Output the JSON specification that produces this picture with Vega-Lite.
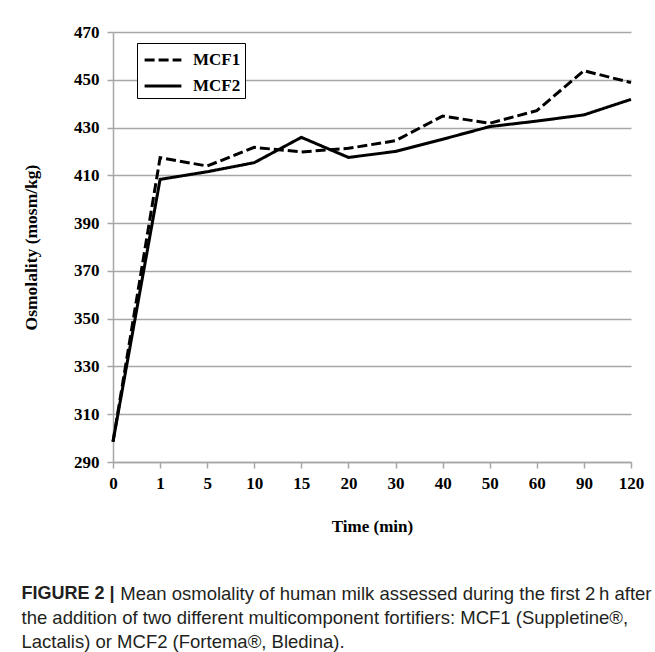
{
  "$schema": "https://vega.github.io/schema/vega-lite/v6.json",
  "width": 518,
  "height": 430,
  "autosize": "none",
  "padding": {"left": 113, "top": 32, "right": 24, "bottom": 190},
  "background": "white",
  "data": {
    "values": [
      {"time": 0, "series": "MCF1", "osm": 298.5},
      {"time": 1, "series": "MCF1", "osm": 417.4},
      {"time": 5, "series": "MCF1", "osm": 413.9},
      {"time": 10, "series": "MCF1", "osm": 421.7},
      {"time": 15, "series": "MCF1", "osm": 419.8},
      {"time": 20, "series": "MCF1", "osm": 421.3},
      {"time": 30, "series": "MCF1", "osm": 424.5},
      {"time": 40, "series": "MCF1", "osm": 434.8},
      {"time": 50, "series": "MCF1", "osm": 431.8},
      {"time": 60, "series": "MCF1", "osm": 437.1},
      {"time": 90, "series": "MCF1", "osm": 453.8},
      {"time": 120, "series": "MCF1", "osm": 448.8},
      {"time": 0, "series": "MCF2", "osm": 298.5},
      {"time": 1, "series": "MCF2", "osm": 408.3},
      {"time": 5, "series": "MCF2", "osm": 411.5},
      {"time": 10, "series": "MCF2", "osm": 415.3},
      {"time": 15, "series": "MCF2", "osm": 425.9},
      {"time": 20, "series": "MCF2", "osm": 417.5},
      {"time": 30, "series": "MCF2", "osm": 420.0},
      {"time": 40, "series": "MCF2", "osm": 425.1},
      {"time": 50, "series": "MCF2", "osm": 430.4},
      {"time": 60, "series": "MCF2", "osm": 432.7},
      {"time": 90, "series": "MCF2", "osm": 435.3},
      {"time": 120, "series": "MCF2", "osm": 441.8}
    ]
  },
  "mark": {"type": "line", "color": "black", "strokeWidth": 3, "clip": false},
  "encoding": {
    "x": {
      "field": "time",
      "type": "ordinal",
      "scale": {"type": "point", "padding": 0},
      "axis": {
        "title": "Time (min)",
        "labelAngle": 0,
        "labelFont": "Liberation Serif",
        "labelFontWeight": "bold",
        "labelFontSize": 17,
        "labelColor": "black",
        "labelPadding": 7,
        "titleFont": "Liberation Serif",
        "titleFontWeight": "bold",
        "titleFontSize": 17,
        "titleColor": "black",
        "titlePadding": 27,
        "domainColor": "#a6a6a6",
        "domainWidth": 1.5,
        "tickColor": "#a6a6a6",
        "tickWidth": 1.5,
        "tickSize": 6,
        "grid": false
      }
    },
    "y": {
      "field": "osm",
      "type": "quantitative",
      "scale": {"domain": [290, 470], "nice": false, "zero": false},
      "axis": {
        "title": "Osmolality (mosm/kg)",
        "values": [290, 310, 330, 350, 370, 390, 410, 430, 450, 470],
        "labelFont": "Liberation Serif",
        "labelFontWeight": "bold",
        "labelFontSize": 17,
        "labelColor": "black",
        "labelPadding": 8,
        "titleFont": "Liberation Serif",
        "titleFontWeight": "bold",
        "titleFontSize": 17.5,
        "titleColor": "black",
        "titlePadding": 33,
        "domainColor": "#a6a6a6",
        "domainWidth": 1.5,
        "tickColor": "#a6a6a6",
        "tickWidth": 1.5,
        "tickSize": 6,
        "grid": true,
        "gridColor": "#a6a6a6",
        "gridWidth": 1.5
      }
    },
    "strokeDash": {
      "field": "series",
      "type": "nominal",
      "scale": {"domain": ["MCF1", "MCF2"], "range": [[10, 4], [1, 0]]},
      "legend": {
        "title": null,
        "orient": "none",
        "legendX": 24,
        "legendY": 11,
        "strokeColor": "black",
        "fillColor": "white",
        "padding": 4,
        "rowPadding": 5,
        "symbolOffset": 9,
        "labelOffset": 17,
        "labelExpr": "datum.label + '\u2009\u2009\u2009'",
        "symbolType": "M-1.6,0H1.6",
        "symbolSize": 529,
        "symbolStrokeWidth": 3,
        "symbolStrokeColor": "black",
        "symbolFillColor": "transparent",
        "labelFont": "Liberation Serif",
        "labelFontWeight": "bold",
        "labelFontSize": 17,
        "labelColor": "black"
      }
    }
  },
  "title": {
    "text": "FIGURE 2 |",
    "orient": "bottom",
    "anchor": "start",
    "frame": "bounds",
    "offset": 51,
    "dx": -1,
    "font": "Liberation Sans Narrow, Arial Narrow, Liberation Sans",
    "fontSize": 18,
    "fontWeight": "bold",
    "color": "#231f20",
    "subtitle": [
      "\u2800\u2800\u2800\u2800\u2800\u2800\u2009\u2009\u2009\u2009Mean osmolality of human milk assessed during the first 2\u2009h after",
      "the addition of two different multicomponent fortifiers: MCF1 (Suppletine\u00ae,",
      "Lactalis) or MCF2 (Fortema\u00ae, Bledina)."
    ],
    "subtitleFont": "Liberation Sans Narrow, Arial Narrow, Liberation Sans",
    "subtitleFontSize": 18.5,
    "subtitleColor": "#231f20",
    "subtitleLineHeight": 24,
    "subtitlePadding": -18
  },
  "config": {
    "view": {"stroke": null}
  }
}
